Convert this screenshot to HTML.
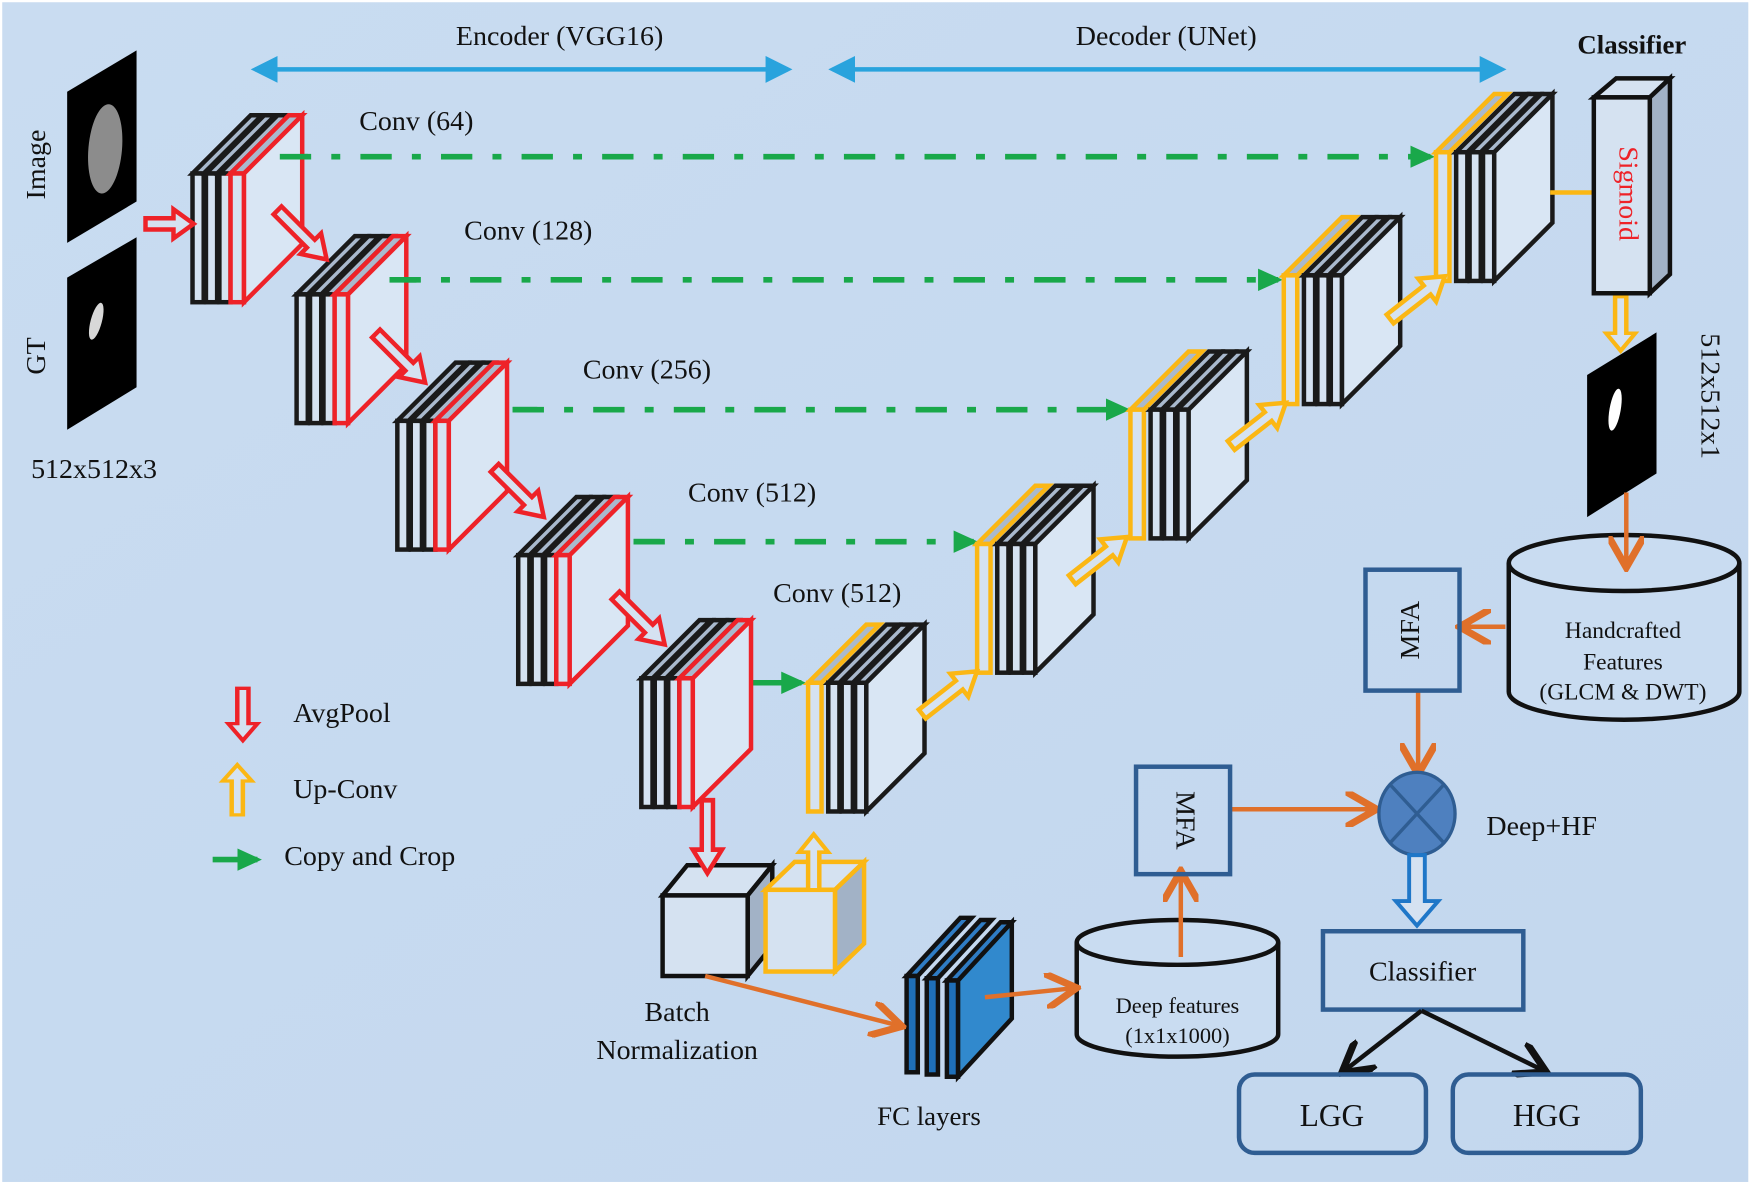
<!DOCTYPE html>
<html><head><meta charset="utf-8">
<style>
html,body{margin:0;padding:0;background:#fff;}
svg{display:block;}
text{font-family:"Liberation Serif","Times New Roman",serif;fill:#111;}
</style></head>
<body>
<svg width="1755" height="1187" viewBox="0 0 1568 1060.5" preserveAspectRatio="none" xmlns="http://www.w3.org/2000/svg" font-family="Liberation Serif, serif">
<defs>
<linearGradient id="bg" x1="0" y1="0" x2="1" y2="1">
<stop offset="0" stop-color="#c9dcf1"/><stop offset="1" stop-color="#c3d7ee"/>
</linearGradient>
<marker id="og" markerWidth="8" markerHeight="8" refX="6" refY="4" orient="auto" markerUnits="strokeWidth">
<path d="M0,0 L7,4 L0,8" fill="none" stroke="#e0702a" stroke-width="1.6"/></marker>
<marker id="gr" markerWidth="4.4" markerHeight="4" refX="3.6" refY="2" orient="auto" markerUnits="strokeWidth">
<path d="M0,0 L4.4,2 L0,4 z" fill="#19a84a"/></marker>
<marker id="bl" markerWidth="6" markerHeight="6" refX="5" refY="3" orient="auto" markerUnits="strokeWidth">
<path d="M0,0 L6,3 L0,6 z" fill="#29a3dd"/></marker>
<marker id="bls" markerWidth="6" markerHeight="6" refX="1" refY="3" orient="auto" markerUnits="strokeWidth">
<path d="M6,0 L0,3 L6,6 z" fill="#29a3dd"/></marker>
<marker id="bk" markerWidth="8" markerHeight="8" refX="6" refY="4" orient="auto" markerUnits="strokeWidth">
<path d="M0,0 L7,4 L0,8" fill="none" stroke="#111" stroke-width="1.6"/></marker>

<g id="enc" stroke-width="4" stroke-linejoin="miter">
 <g stroke="#1a1a1a">
  <polygon points="0,0 52,-52 62,-52 10,0" fill="#a9b9cd"/><rect x="0" y="0" width="10" height="115" fill="#d5e2f1"/>
  <polygon points="12,0 64,-52 74,-52 22,0" fill="#a9b9cd"/><rect x="12" y="0" width="10" height="115" fill="#d5e2f1"/>
  <polygon points="24,0 76,-52 86,-52 34,0" fill="#a9b9cd"/><rect x="24" y="0" width="10" height="115" fill="#d5e2f1"/>
 </g>
 <g stroke="#ee2228">
  <polygon points="34,0 86,-52 98,-52 46,0" fill="#a9b9cd"/>
  <rect x="34" y="0" width="12" height="115" fill="#d5e2f1"/>
  <polygon points="46,0 98,-52 98,63 46,115" fill="#d9e6f4"/>
 </g>
</g>
<g id="dec" stroke-width="4">
 <g stroke="#fbb714">
  <polygon points="0,0 52,-52 64,-52 12,0" fill="#a9b9cd"/><rect x="0" y="0" width="12" height="115" fill="#d5e2f1"/>
 </g>
 <g stroke="#1a1a1a">
  <polygon points="18,0 70,-52 80,-52 28,0" fill="#a9b9cd"/><rect x="18" y="0" width="10" height="115" fill="#d5e2f1"/>
  <polygon points="30,0 82,-52 92,-52 40,0" fill="#a9b9cd"/><rect x="30" y="0" width="10" height="115" fill="#d5e2f1"/>
  <polygon points="42,0 94,-52 104,-52 52,0" fill="#a9b9cd"/><rect x="42" y="0" width="10" height="115" fill="#d5e2f1"/>
  <polygon points="52,0 104,-52 104,63 52,115" fill="#d9e6f4"/>
 </g>
</g>
<polygon id="ra" points="0,-5 42,-5 42,-13 62,0 42,13 42,5 0,5" fill="#d5e2f1" stroke="#ee2228" stroke-width="4"/>
<polygon id="ya" points="0,-5 42,-5 42,-13 62,0 42,13 42,5 0,5" fill="#d5e2f1" stroke="#fbb714" stroke-width="4"/>
</defs>

<rect x="0" y="0" width="1568" height="1060.5" fill="#fff"/>
<rect x="2" y="2" width="1560" height="1054" fill="url(#bg)"/>

<text x="500" y="40" font-size="25" text-anchor="middle">Encoder (VGG16)</text>
<text x="1042" y="40" font-size="25" text-anchor="middle">Decoder (UNet)</text>
<text x="1458" y="48" font-size="24" font-weight="bold" text-anchor="middle">Classifier</text>
<line x1="228" y1="62" x2="704" y2="62" stroke="#29a3dd" stroke-width="4" marker-end="url(#bl)" marker-start="url(#bls)"/>
<line x1="744" y1="62" x2="1342" y2="62" stroke="#29a3dd" stroke-width="4" marker-end="url(#bl)" marker-start="url(#bls)"/>

<polygon points="60,82 122,45 122,180 60,217" fill="#000"/>
<ellipse cx="94" cy="133" rx="15" ry="40" fill="#8c8c8c" transform="rotate(5 94 133)"/>
<polygon points="60,248 122,212 122,346 60,384" fill="#000"/>
<ellipse cx="86" cy="287" rx="5" ry="17" fill="#d8d8d8" transform="rotate(15 86 287)"/>
<text x="40" y="147" font-size="25" text-anchor="middle" transform="rotate(-90 40 147)">Image</text>
<text x="40" y="318" font-size="25" text-anchor="middle" transform="rotate(-90 40 318)">GT</text>
<text x="84" y="427" font-size="25" text-anchor="middle">512x512x3</text>

<text x="372" y="116" font-size="25" text-anchor="middle">Conv (64)</text>
<text x="472" y="214" font-size="25" text-anchor="middle">Conv (128)</text>
<text x="578" y="338" font-size="25" text-anchor="middle">Conv (256)</text>
<text x="672" y="448" font-size="25" text-anchor="middle">Conv (512)</text>
<text x="748" y="538" font-size="25" text-anchor="middle">Conv (512)</text>

<g stroke="#19a84a" stroke-width="5" stroke-dasharray="28,18,8,18" fill="none">
<line x1="250" y1="140" x2="1278" y2="140" marker-end="url(#gr)"/>
<line x1="348" y1="250" x2="1142" y2="250" marker-end="url(#gr)"/>
<line x1="458" y1="366" x2="1006" y2="366" marker-end="url(#gr)"/>
<line x1="566" y1="484" x2="870" y2="484" marker-end="url(#gr)"/>
<line x1="668" y1="610" x2="716" y2="610" stroke-dasharray="none" marker-end="url(#gr)"/>
</g>

<use href="#enc" transform="translate(172,155)"/>
<use href="#enc" transform="translate(265,263)"/>
<use href="#enc" transform="translate(355,376)"/>
<use href="#enc" transform="translate(463,496)"/>
<use href="#enc" transform="translate(573,606)"/>
<use href="#dec" transform="translate(722,610)"/>
<use href="#dec" transform="translate(873,486)"/>
<use href="#dec" transform="translate(1010,366)"/>
<use href="#dec" transform="translate(1147,246)"/>
<use href="#dec" transform="translate(1283,136)"/>

<g stroke="#19a84a" stroke-width="5">
<line x1="250" y1="140" x2="275" y2="140"/>
<line x1="348" y1="250" x2="372" y2="250"/>
<line x1="458" y1="366" x2="480" y2="366"/>
<line x1="566" y1="484" x2="590" y2="484"/>
</g>

<polygon points="130,195 155,195 155,187 173,200 155,213 155,205 130,205" fill="#d5e2f1" stroke="#ee2228" stroke-width="4"/>
<use href="#ra" transform="translate(248,188) rotate(45)"/>
<use href="#ra" transform="translate(336,298) rotate(45)"/>
<use href="#ra" transform="translate(442,418) rotate(45)"/>
<use href="#ra" transform="translate(550,532) rotate(45)"/>
<use href="#ra" transform="translate(217,615) rotate(90) scale(0.75,1)"/>

<use href="#ya" transform="translate(824,638) rotate(-38)"/>
<use href="#ya" transform="translate(958,518) rotate(-38)"/>
<use href="#ya" transform="translate(1100,398) rotate(-38)"/>
<use href="#ya" transform="translate(1242,285) rotate(-38)"/>
<use href="#ya" transform="translate(212,728) rotate(-90) scale(0.72,1)"/>
<use href="#ya" transform="translate(1448,265) rotate(90) scale(0.78,1)"/>

<text x="262" y="645" font-size="25">AvgPool</text>
<text x="262" y="713" font-size="25">Up-Conv</text>
<text x="254" y="773" font-size="25">Copy and Crop</text>
<line x1="190" y1="768" x2="230" y2="768" stroke="#19a84a" stroke-width="5" marker-end="url(#gr)"/>

<line x1="1385" y1="172" x2="1424" y2="172" stroke="#fbb714" stroke-width="4"/>
<polygon points="1424,87 1444,70 1492,70 1474,87" fill="#d5e2f1" stroke="#111" stroke-width="4"/>
<polygon points="1474,87 1492,70 1492,245 1474,262" fill="#a2b2c6" stroke="#111" stroke-width="4"/>
<rect x="1424" y="87" width="50" height="175" fill="#d5e2f1" stroke="#111" stroke-width="4"/>
<text x="1447" y="173" font-size="25" style="fill:#ee2228" text-anchor="middle" transform="rotate(90 1447 173)">Sigmoid</text>

<polygon points="1418,335 1480,297 1480,423 1418,462" fill="#000"/>
<ellipse cx="1443" cy="366" rx="5" ry="19" fill="#fff" transform="rotate(10 1443 366)"/>
<text x="1520" y="354" font-size="25" text-anchor="middle" transform="rotate(90 1520 354)">512x512x1</text>

<g stroke="#e0702a" stroke-width="4" fill="none">
<line x1="1345" y1="560" x2="1308" y2="560" marker-end="url(#og)"/>
<line x1="1267" y1="616" x2="1267" y2="688" marker-end="url(#og)"/>
<line x1="1100" y1="723" x2="1226" y2="723" marker-end="url(#og)"/>
</g>

<path d="M1348,503 L1348,618 A103,25 0 0 0 1554,618 L1554,503" fill="#c9dcf1" stroke="#111" stroke-width="4"/>
<ellipse cx="1451" cy="503" rx="103" ry="25" fill="#c9dcf1" stroke="#111" stroke-width="4"/>
<text x="1450" y="570" font-size="21" text-anchor="middle">Handcrafted</text>
<text x="1450" y="598" font-size="21" text-anchor="middle">Features</text>
<text x="1450" y="625" font-size="21" text-anchor="middle">(GLCM &amp; DWT)</text>
<line x1="1453" y1="440" x2="1453" y2="503" stroke="#e0702a" stroke-width="4" marker-end="url(#og)"/>

<path d="M962,842 L962,924 A90,20 0 0 0 1142,924 L1142,842" fill="#c9dcf1" stroke="#111" stroke-width="4"/>
<ellipse cx="1052" cy="842" rx="90" ry="20" fill="#c9dcf1" stroke="#111" stroke-width="4"/>
<line x1="1055" y1="855" x2="1055" y2="782" stroke="#e0702a" stroke-width="4" marker-end="url(#og)"/>
<text x="1052" y="905" font-size="20" text-anchor="middle">Deep features</text>
<text x="1052" y="932" font-size="20" text-anchor="middle">(1x1x1000)</text>

<rect x="1220" y="509" width="84" height="108" fill="none" stroke="#2f5d92" stroke-width="4"/>
<text x="1262" y="563" font-size="25" text-anchor="middle" dominant-baseline="middle" transform="rotate(-90 1262 563)">MFA</text>
<rect x="1015" y="685" width="84" height="96" fill="none" stroke="#2f5d92" stroke-width="4"/>
<text x="1057" y="733" font-size="25" text-anchor="middle" dominant-baseline="middle" transform="rotate(90 1057 733)">MFA</text>

<ellipse cx="1266" cy="727" rx="34" ry="37" fill="#4e80bf" stroke="#2f5d92" stroke-width="3"/>
<line x1="1242" y1="701" x2="1290" y2="753" stroke="#2f5d92" stroke-width="3"/>
<line x1="1290" y1="701" x2="1242" y2="753" stroke="#2f5d92" stroke-width="3"/>
<text x="1328" y="746" font-size="25">Deep+HF</text>
<polygon points="1259,764 1273,764 1273,805 1285,805 1266,827 1247,805 1259,805" fill="#d5e2f1" stroke="#1f77c8" stroke-width="3.5"/>

<rect x="1182" y="832" width="179" height="70" fill="none" stroke="#2f5d92" stroke-width="4"/>
<text x="1271" y="876" font-size="25" text-anchor="middle">Classifier</text>
<g stroke="#111" stroke-width="4" fill="none">
<line x1="1270" y1="903" x2="1202" y2="956" marker-end="url(#bk)"/>
<line x1="1270" y1="903" x2="1378" y2="956" marker-end="url(#bk)"/>
</g>
<rect x="1107" y="960" width="167" height="70" rx="14" fill="none" stroke="#2f5d92" stroke-width="4"/>
<text x="1190" y="1006" font-size="28" text-anchor="middle">LGG</text>
<rect x="1298" y="960" width="168" height="70" rx="14" fill="none" stroke="#2f5d92" stroke-width="4"/>
<text x="1382" y="1006" font-size="28" text-anchor="middle">HGG</text>

<g stroke-width="4">
<polygon points="592,800 614,773 690,773 668,800" fill="#d5e2f1" stroke="#111"/>
<polygon points="668,800 690,773 690,845 668,872" fill="#a2b2c6" stroke="#111"/>
<rect x="592" y="800" width="76" height="72" fill="#d5e2f1" stroke="#111"/>
<polygon points="684,795 710,770 772,770 746,795" fill="#d5e2f1" stroke="#fbb714"/>
<polygon points="746,795 772,770 772,843 746,868" fill="#a2b2c6" stroke="#fbb714"/>
<rect x="684" y="795" width="62" height="73" fill="#d5e2f1" stroke="#fbb714"/>
</g>
<use href="#ya" transform="translate(727,795) rotate(-90) scale(0.8,1)"/>
<use href="#ra" transform="translate(632,715) rotate(90) scale(1.05,1)"/>
<text x="605" y="912" font-size="25" text-anchor="middle">Batch</text>
<text x="605" y="946" font-size="25" text-anchor="middle">Normalization</text>

<g stroke="#111" stroke-width="4">
<polygon points="810,872 858,820 868,820 820,872" fill="#2f7cc4"/><rect x="810" y="872" width="10" height="86" fill="#1f6fb8"/>
<polygon points="828,874 876,822 886,822 838,874" fill="#2f7cc4"/><rect x="828" y="874" width="10" height="86" fill="#1f6fb8"/>
<polygon points="846,876 894,824 904,824 856,876" fill="#2f7cc4"/><rect x="846" y="876" width="10" height="86" fill="#1f6fb8"/>
<polygon points="856,876 904,824 904,910 856,962" fill="#3189cd"/>
</g>
<line x1="880" y1="891" x2="958" y2="883" stroke="#e0702a" stroke-width="4" marker-end="url(#og)"/>
<line x1="630" y1="872" x2="802" y2="916" stroke="#e0702a" stroke-width="4" marker-end="url(#og)"/>
<text x="830" y="1005" font-size="24" text-anchor="middle">FC layers</text>
</svg>
</body></html>
